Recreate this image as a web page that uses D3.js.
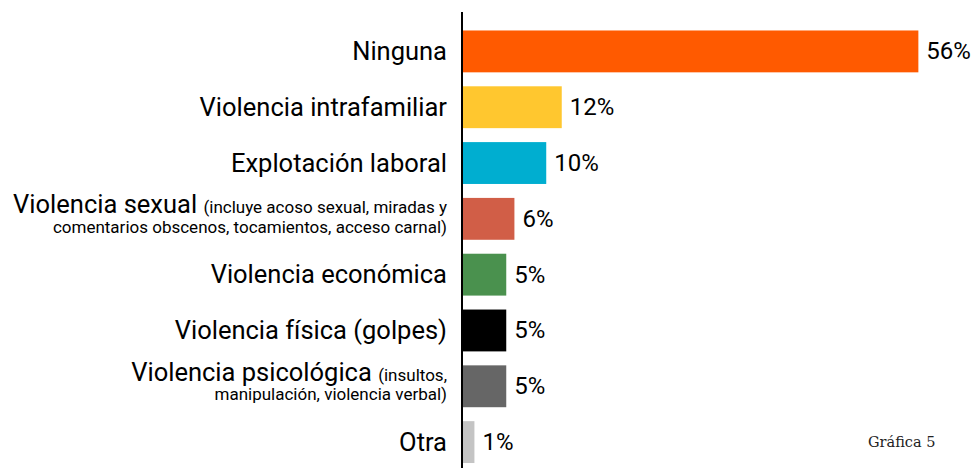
<!DOCTYPE html>
<html><head><meta charset="utf-8">
<script src="https://cdn.jsdelivr.net/npm/d3@7"></script>
<style>html,body{margin:0;padding:0;background:#fff;}svg{display:block;}</style>
</head><body>
<script>
const categories = ["Ninguna","Violencia intrafamiliar","Explotación laboral","Violencia sexual","Violencia económica","Violencia física (golpes)","Violencia psicológica","Otra"];
const notesLine1 = ["","","","(incluye acoso sexual, miradas y","","","(insultos,",""];
const notesLine2 = ["","","","comentarios obscenos, tocamientos, acceso carnal)","","","manipulación, violencia verbal)",""];
const values = [55.8, 12.1, 10.2, 6.3, 5.3, 5.3, 5.3, 1.4];
const colors = ["#FF5A00","#FFC72F","#00AED0","#D15E47","#4A914E","#000000","#666666","#C4C4C4"];
const footnote = "Gráfica 5";

const W = 974, H = 468;
const svg = d3.select("body").append("svg").attr("width", W).attr("height", H);
const x0 = 463;
const x = d3.scaleLinear().domain([0, 56]).range([x0, 920]);
const y = d3.scaleBand().domain(categories).range([23.5, 470]).paddingInner(0.25).paddingOuter(0.125);

svg.selectAll("rect.bar").data(values).join("rect")
  .attr("class","bar")
  .attr("x", x(0))
  .attr("y", (d,i) => y(categories[i]))
  .attr("width", d => x(d) - x(0))
  .attr("height", y.bandwidth())
  .attr("fill", (d,i) => colors[i]);

svg.append("line").attr("x1", 462).attr("x2", 462).attr("y1", 12).attr("y2", H)
  .attr("stroke", "#000").attr("stroke-width", 2);

svg.selectAll("text.val").data(values).join("text")
  .attr("class","val")
  .attr("x", d => x(d) + 8)
  .attr("y", (d,i) => y(categories[i]) + y.bandwidth()/2 + 8)
  .attr("font-family", "Roboto")
  .attr("font-size", 24)
  .attr("fill", "#000")
  .text(d => Math.round(d) + "%");

const labelX = 447;
categories.forEach((c, i) => {
  const cy = y(c) + y.bandwidth()/2;
  if (notesLine1[i]) {
    const t = svg.append("text").attr("x", labelX).attr("y", cy - 5.5)
      .attr("text-anchor","end").attr("font-family","Roboto").attr("fill","#000");
    t.append("tspan").attr("font-size", 25.5).text(c + " ");
    t.append("tspan").attr("font-size", 17).text(notesLine1[i]);
    svg.append("text").attr("x", labelX).attr("y", cy + 14)
      .attr("text-anchor","end").attr("font-family","Roboto").attr("font-size", 17)
      .attr("fill","#000").text(notesLine2[i]);
  } else {
    svg.append("text").attr("x", labelX).attr("y", cy + 8.5)
      .attr("text-anchor","end").attr("font-family","Roboto").attr("font-size", 25.5)
      .attr("fill","#000").text(c);
  }
});

svg.append("text").attr("x", 868).attr("y", 447)
  .attr("font-family", "DejaVu Serif").attr("font-size", 14.5).attr("fill", "#222")
  .text(footnote);
</script>
</body></html>
